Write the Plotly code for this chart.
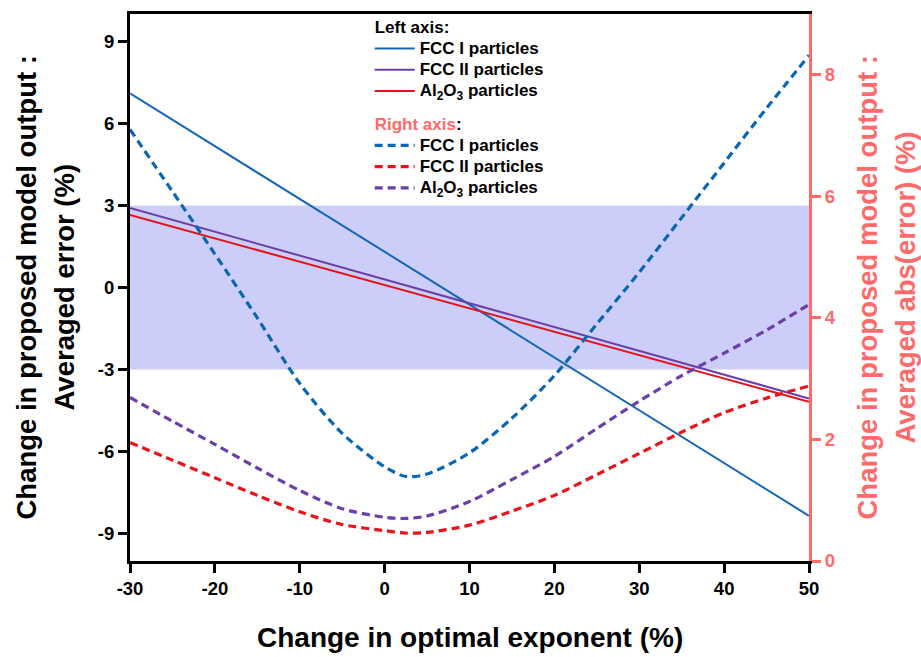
import plotly.graph_objects as go

# Left axis: averaged error (%) vs. change in optimal exponent (%)
x_err = [-30, 50]
fcc1_err = [7.10, -8.35]
fcc2_err = [2.91, -4.06]
al2o3_err = [2.65, -4.18]

# Right axis: averaged abs(error) (%)
x_abs = [-30, -25, -20, -15, -10, -5, 0, 2.5, 5, 10, 15, 20, 25, 30, 35, 40, 45, 50]
fcc1_abs = [7.10, 6.08, 5.05, 4.00, 2.92, 2.10, 1.55, 1.39, 1.43, 1.78, 2.35, 3.05, 3.90, 4.75, 5.65, 6.55, 7.45, 8.32]
fcc2_abs = [1.95, 1.66, 1.37, 1.08, 0.81, 0.60, 0.50, 0.46, 0.47, 0.59, 0.82, 1.08, 1.42, 1.77, 2.12, 2.44, 2.68, 2.88]
al2o3_abs = [2.69, 2.30, 1.92, 1.53, 1.16, 0.86, 0.72, 0.70, 0.74, 0.98, 1.34, 1.72, 2.18, 2.63, 3.05, 3.42, 3.80, 4.22]

x_ticks = [-30, -20, -10, 0, 10, 20, 30, 40, 50]
x_ticktext = ["-30", "-20", "-10", "0", "10", "20", "30", "40", "50"]
y_ticks = [-9, -6, -3, 0, 3, 6, 9]
y_ticktext = ["-9", "-6", "-3", "0", "3", "6", "9"]
y2_ticks = [0, 2, 4, 6, 8]
band = [-3, 3]

FONT = "Arial, 'Liberation Sans', sans-serif"
BLUE = "#1366B5"
PURPLE = "#6B3FA8"
RED = "#E3121B"
SALMON = "#FF6A6A"


def big(s):
    return f"<span style='font-size:17px'>{s}</span>"


fig = go.Figure()

solid = [("FCC I particles", fcc1_err, BLUE),
         ("FCC II particles", fcc2_err, PURPLE),
         ("Al<sub>2</sub>O<sub>3</sub> particles", al2o3_err, RED)]
for name, ys, col in solid:
    fig.add_trace(go.Scatter(
        x=x_err, y=ys, mode="lines", name=big(name),
        line=dict(color=col, width=2),
        legendgroup="left",
        legendgrouptitle=dict(text=big("Left axis:")),
        yaxis="y"))

dashed = [("FCC I particles", fcc1_abs, "#0A66B3"),
          ("FCC II particles", fcc2_abs, "#E8141B"),
          ("Al<sub>2</sub>O<sub>3</sub> particles", al2o3_abs, PURPLE)]
for name, ys, col in dashed:
    fig.add_trace(go.Scatter(
        x=x_abs, y=ys, mode="lines", name=big(name),
        line=dict(color=col, width=3.2, dash="8px,5px", shape="spline", smoothing=0.8),
        legendgroup="right",
        legendgrouptitle=dict(text=big(f"<span style='color:{SALMON}'>Right axis</span>:")),
        yaxis="y2"))

# ±3 % band on the left axis
fig.add_shape(type="rect", xref="x", yref="y", x0=x_ticks[0], x1=x_ticks[-1],
              y0=band[0], y1=band[1], fillcolor="#CDCDF9", line=dict(width=0),
              layer="below")

bold = dict(family=FONT, weight="bold")

fig.update_layout(
    width=921, height=657,
    margin=dict(l=130, r=112, t=12, b=96),
    paper_bgcolor="white", plot_bgcolor="white",
    font=dict(family=FONT, color="black"),
    showlegend=True,
    legend=dict(
        x=0.353, y=1.004, xanchor="left", yanchor="top", xref="paper", yref="paper",
        bgcolor="rgba(0,0,0,0)", borderwidth=0,
        font=dict(family=FONT, size=14, weight="bold", color="black"),
        grouptitlefont=dict(family=FONT, size=14, weight="bold", color="black"),
        tracegroupgap=12, itemwidth=40, traceorder="grouped"),
    xaxis=dict(
        range=[-30, 50], tickvals=x_ticks, ticktext=x_ticktext, ticks="outside",
        ticklen=9, tickwidth=2.5, tickcolor="black", showline=True, linewidth=3,
        linecolor="black", mirror=True, showgrid=False, zeroline=False,
        tickfont=dict(size=18.5, color="black", **bold)),
    yaxis=dict(
        range=[-10, 10], tickvals=y_ticks, ticktext=y_ticktext, ticks="outside",
        ticklen=9, tickwidth=2.5, tickcolor="black", showline=True, linewidth=3,
        linecolor="black", showgrid=False, zeroline=False,
        tickfont=dict(size=18.5, color="black", **bold)),
    yaxis2=dict(
        overlaying="y", side="right", range=[0, 9], tickvals=y2_ticks,
        ticks="outside", ticklen=9, tickwidth=2.5, tickcolor=SALMON,
        showline=True, linewidth=3, linecolor=SALMON,
        showgrid=False, zeroline=False,
        tickfont=dict(size=18.5, color=SALMON, **bold)),
)

title_font = dict(size=27.5, color="black", **bold)
title_font_r = dict(size=27.5, color=SALMON, **bold)
annots = [
    dict(text="Change in proposed model output :", x=0, xshift=-104, font=title_font),
    dict(text="Averaged error (%)", x=0, xshift=-66, font=title_font),
    dict(text="Change in proposed model output :", x=1, xshift=58, font=title_font_r),
    dict(text="Averaged abs(error) (%)", x=1, xshift=96, font=title_font_r),
]
for a in annots:
    fig.add_annotation(xref="paper", yref="paper", y=0.5, textangle=-90,
                       xanchor="center", yanchor="middle", showarrow=False, **a)
fig.add_annotation(text="Change in optimal exponent (%)", xref="paper", yref="paper",
                   x=0.5, y=0, yshift=-76, xanchor="center", yanchor="middle",
                   showarrow=False, font=dict(size=28, color="black", **bold))

fig.write_html("out.html")
